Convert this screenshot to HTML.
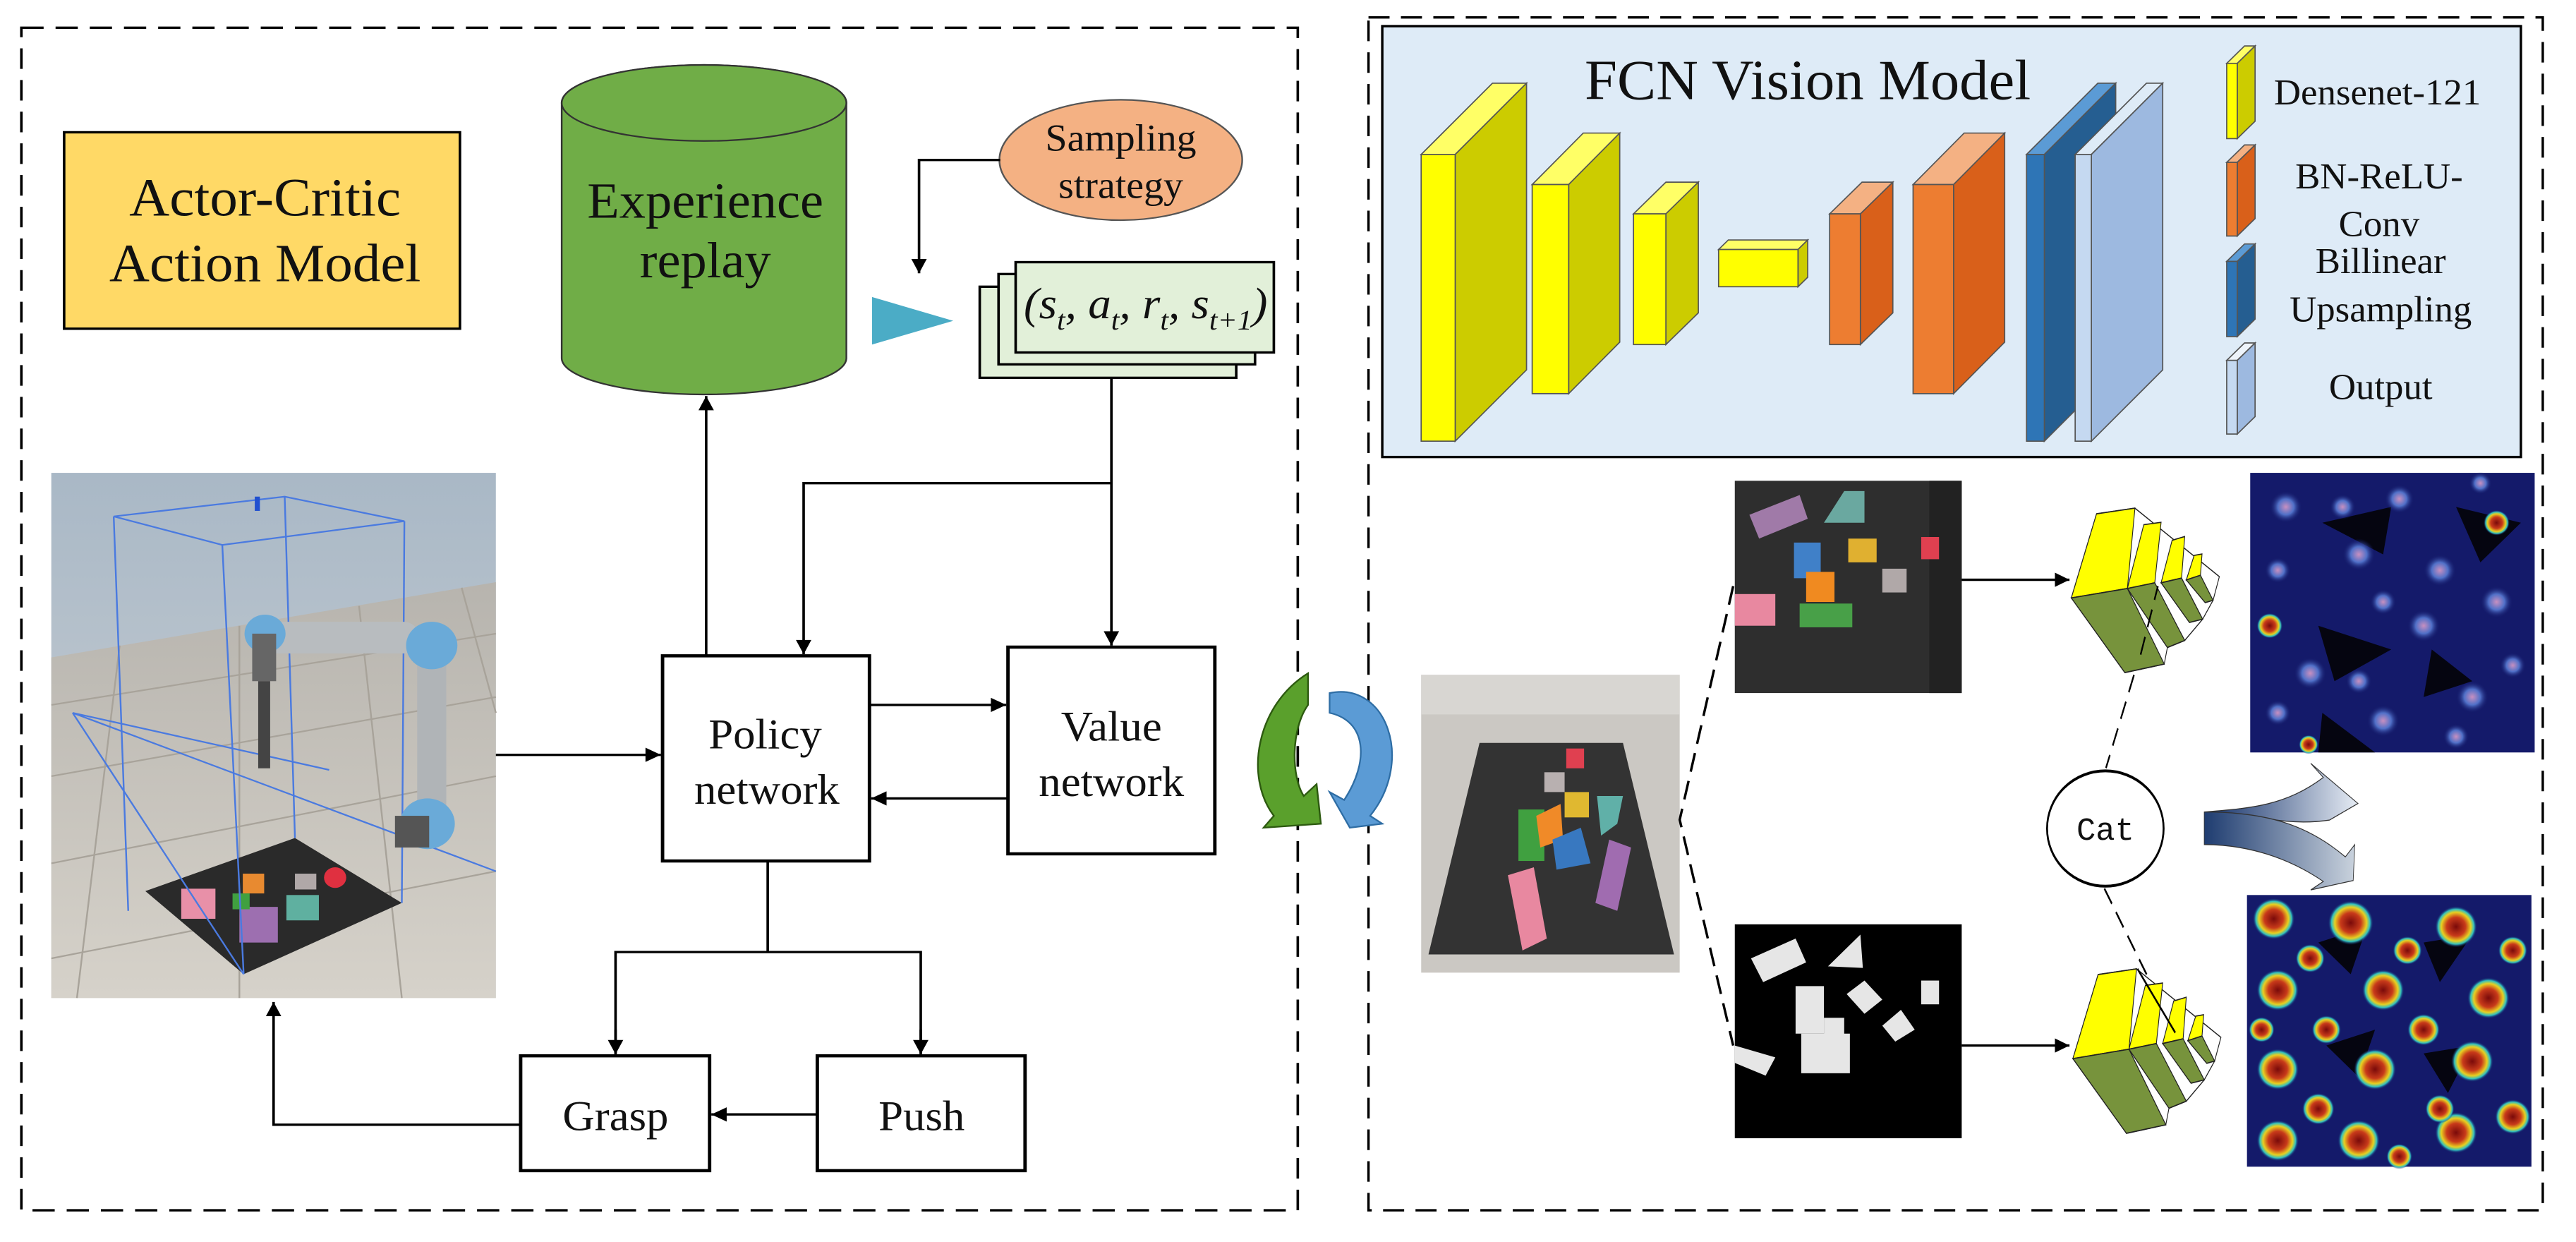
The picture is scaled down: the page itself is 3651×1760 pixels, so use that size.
<!DOCTYPE html>
<html><head><meta charset="utf-8"><style>
html,body{margin:0;padding:0;background:#fff;}
svg{display:block;}
</style></head><body>
<svg width="3651" height="1760" viewBox="0 0 3651 1760" xmlns="http://www.w3.org/2000/svg" font-family="Liberation Serif, serif">
<defs>
<marker id="ah" viewBox="0 0 10 10" refX="10" refY="5" markerWidth="24" markerHeight="18" markerUnits="userSpaceOnUse" orient="auto"><path d="M0,0 L10,5 L0,10 z" fill="#000"/></marker>
<linearGradient id="sky" x1="0" y1="0" x2="0" y2="1"><stop offset="0" stop-color="#a9b8c6"/><stop offset="1" stop-color="#cfd3d6"/></linearGradient>
<linearGradient id="fl" x1="0" y1="0" x2="0" y2="1"><stop offset="0" stop-color="#b7b4ae"/><stop offset="1" stop-color="#d6d2ca"/></linearGradient>
<linearGradient id="ga" x1="0" y1="0" x2="1" y2="0"><stop offset="0" stop-color="#0e2c66"/><stop offset="1" stop-color="#e6ecf4"/></linearGradient>
<linearGradient id="gb" x1="0" y1="0" x2="1" y2="0"><stop offset="0" stop-color="#1e3c70"/><stop offset="1" stop-color="#c9d2dd"/></linearGradient>
<radialGradient id="hot"><stop offset="0" stop-color="#7a0a0a"/><stop offset="0.45" stop-color="#c83a1a"/><stop offset="0.7" stop-color="#e8d020"/><stop offset="0.85" stop-color="#30c0c0"/><stop offset="1" stop-color="#141a6a" stop-opacity="0"/></radialGradient>
<radialGradient id="cool"><stop offset="0" stop-color="#c890c0"/><stop offset="0.5" stop-color="#5070c8"/><stop offset="1" stop-color="#141a6a" stop-opacity="0"/></radialGradient>
</defs>

<!-- LEFT PART -->
<g transform="scale(1.2117,1.1224)" font-family="Liberation Serif, serif" fill="#111">
<rect x="25" y="35" width="1493" height="1493" fill="none" stroke="#000" stroke-width="3" stroke-dasharray="26,14"/>
<rect x="75" y="167" width="463" height="248" fill="#FFD966" stroke="#000" stroke-width="3"/>
<text transform="translate(310,272) scale(0.96,1)" font-family="Liberation Serif, serif" font-size="68" text-anchor="middle">Actor-Critic</text>
<text transform="translate(310,355) scale(0.96,1)" font-family="Liberation Serif, serif" font-size="68" text-anchor="middle">Action Model</text>

<path d="M657,130 L657,452 A166.5,46 0 0 0 990,452 L990,130 A166.5,48 0 0 0 657,130 Z" fill="#70AD47" stroke="#333" stroke-width="2"/>
<ellipse cx="823.5" cy="130" rx="166.5" ry="48" fill="#70AD47" stroke="#333" stroke-width="2"/>
<text transform="translate(825,275) scale(0.96,1)" font-family="Liberation Serif, serif" font-size="64" text-anchor="middle">Experience</text>
<text transform="translate(825,350) scale(0.96,1)" font-family="Liberation Serif, serif" font-size="64" text-anchor="middle">replay</text>

<ellipse cx="1311" cy="202" rx="142" ry="76" fill="#F4B183" stroke="#555" stroke-width="2"/>
<text transform="translate(1311,190) scale(0.96,1)" font-family="Liberation Serif, serif" font-size="48" text-anchor="middle">Sampling</text>
<text transform="translate(1311,250) scale(0.96,1)" font-family="Liberation Serif, serif" font-size="48" text-anchor="middle">strategy</text>
<polyline points="1170,202 1075,202 1075,345" fill="none" stroke="#000" stroke-width="3" marker-end="url(#ah)"/>
<polygon points="1020,375 1020,435 1115,405" fill="#4BACC6"/>

<rect x="1146" y="362" width="300" height="115" fill="#E2F0D9" stroke="#000" stroke-width="3"/>
<rect x="1168" y="346" width="300" height="114" fill="#E2F0D9" stroke="#000" stroke-width="3"/>
<rect x="1188" y="331" width="302" height="114" fill="#E2F0D9" stroke="#000" stroke-width="3"/>
<text transform="translate(1340,402) scale(0.96,1)" font-family="Liberation Serif, serif" font-size="56" text-anchor="middle" font-style="italic">(s<tspan font-size="36" dy="14">t</tspan><tspan dy="-14">, a</tspan><tspan font-size="36" dy="14">t</tspan><tspan dy="-14">, r</tspan><tspan font-size="36" dy="14">t</tspan><tspan dy="-14">, s</tspan><tspan font-size="36" dy="14">t+1</tspan><tspan dy="-14">)</tspan></text>

<line x1="1300" y1="477" x2="1300" y2="815" stroke="#000" stroke-width="3" marker-end="url(#ah)"/>
<polyline points="1300,610 940,610 940,826" fill="none" stroke="#000" stroke-width="3" marker-end="url(#ah)"/>

<rect x="775" y="828" width="242" height="259" fill="#fff" stroke="#000" stroke-width="4"/>
<text transform="translate(895,945) scale(0.96,1)" font-family="Liberation Serif, serif" font-size="54" text-anchor="middle">Policy</text>
<text transform="translate(897,1015) scale(0.96,1)" font-family="Liberation Serif, serif" font-size="54" text-anchor="middle">network</text>
<rect x="1179" y="817" width="242" height="261" fill="#fff" stroke="#000" stroke-width="4"/>
<text transform="translate(1300,935) scale(0.96,1)" font-family="Liberation Serif, serif" font-size="54" text-anchor="middle">Value</text>
<text transform="translate(1300,1005) scale(0.96,1)" font-family="Liberation Serif, serif" font-size="54" text-anchor="middle">network</text>
<line x1="1017" y1="890" x2="1177" y2="890" stroke="#000" stroke-width="3" marker-end="url(#ah)"/>
<line x1="1179" y1="1008" x2="1019" y2="1008" stroke="#000" stroke-width="3" marker-end="url(#ah)"/>
<line x1="826" y1="828" x2="826" y2="500" stroke="#000" stroke-width="3" marker-end="url(#ah)"/>

<!-- robot image -->
<rect x="60" y="597" width="520" height="663" fill="url(#sky)"/>
<polygon points="60,830 580,735 580,1260 60,1260" fill="url(#fl)"/>
<g stroke="#a8a39a" stroke-width="2" fill="none">
<line x1="60" y1="890" x2="580" y2="800"/><line x1="60" y1="980" x2="580" y2="880"/><line x1="60" y1="1090" x2="580" y2="980"/><line x1="60" y1="1210" x2="580" y2="1100"/>
<line x1="140" y1="815" x2="90" y2="1260"/><line x1="280" y1="790" x2="280" y2="1260"/><line x1="420" y1="765" x2="470" y2="1260"/><line x1="540" y1="742" x2="580" y2="900"/>
</g>
<polygon points="170,1125 345,1058 470,1140 285,1230" fill="#2a2a2a"/>
<rect x="212" y="1122" width="40" height="38" fill="#e890a8"/>
<rect x="280" y="1145" width="45" height="45" fill="#9d6fb0"/>
<rect x="335" y="1130" width="38" height="32" fill="#5fb0a0"/>
<rect x="284" y="1103" width="25" height="25" fill="#e88a30"/>
<rect x="345" y="1103" width="25" height="20" fill="#b0a8a8"/>
<circle cx="392" cy="1108" r="13" fill="#e03040"/>
<rect x="272" y="1128" width="20" height="20" fill="#40a040"/>
<g stroke="#4a7ae0" stroke-width="2" fill="none">
<polyline points="133,652 333,627 473,658 260,688 133,652"/>
<line x1="133" y1="652" x2="150" y2="1150"/><line x1="260" y1="688" x2="285" y2="1230"/><line x1="473" y1="658" x2="470" y2="1140"/><line x1="333" y1="627" x2="345" y2="1058"/>
<line x1="85" y1="900" x2="385" y2="972"/><line x1="85" y1="900" x2="580" y2="1100"/><line x1="85" y1="900" x2="285" y2="1230"/>
</g>
<rect x="298" y="627" width="6" height="18" fill="#2050d0"/>
<g>
<rect x="300" y="785" width="190" height="40" rx="18" fill="#b8bcbf"/>
<rect x="488" y="810" width="34" height="220" fill="#b0b4b7"/>
<circle cx="505" cy="815" r="30" fill="#6aaad8"/>
<circle cx="310" cy="800" r="24" fill="#6aaad8"/>
<rect x="295" y="800" width="28" height="60" fill="#666"/>
<rect x="302" y="860" width="14" height="110" fill="#444"/>
<circle cx="500" cy="1040" r="32" fill="#6aaad8"/>
<rect x="462" y="1030" width="40" height="40" fill="#555"/>
</g>
<line x1="580" y1="953" x2="773" y2="953" stroke="#000" stroke-width="3" marker-end="url(#ah)"/>

<line x1="898" y1="1087" x2="898" y2="1202" stroke="#000" stroke-width="3"/>
<polyline points="720,1330 720,1202 1077,1202 1077,1330" fill="none" stroke="#000" stroke-width="3"/>
<line x1="720" y1="1300" x2="720" y2="1331" stroke="#000" stroke-width="3" marker-end="url(#ah)"/>
<line x1="1077" y1="1300" x2="1077" y2="1331" stroke="#000" stroke-width="3" marker-end="url(#ah)"/>
<rect x="609" y="1333" width="221" height="145" fill="#fff" stroke="#000" stroke-width="4"/>
<text transform="translate(720,1427) scale(0.96,1)" font-family="Liberation Serif, serif" font-size="54" text-anchor="middle">Grasp</text>
<rect x="956" y="1333" width="243" height="145" fill="#fff" stroke="#000" stroke-width="4"/>
<text transform="translate(1078,1427) scale(0.96,1)" font-family="Liberation Serif, serif" font-size="54" text-anchor="middle">Push</text>
<line x1="956" y1="1407" x2="832" y2="1407" stroke="#000" stroke-width="3" marker-end="url(#ah)"/>
<polyline points="609,1420 320,1420 320,1265" fill="none" stroke="#000" stroke-width="3" marker-end="url(#ah)"/>

<path d="M1530,850 C1470,890 1455,980 1490,1030 L1478,1045 L1545,1040 L1540,990 L1525,1005 C1510,980 1510,920 1530,890 Z" fill="#5aa02c" stroke="#2d5a10" stroke-width="2"/>
</g>

<!-- RIGHT PART -->
<g transform="translate(1850,0) scale(1.1486,1.1224)" font-family="Liberation Serif, serif" fill="#111">
<rect x="78" y="22" width="1449" height="1506" fill="none" stroke="#000" stroke-width="3" stroke-dasharray="26,14"/>
<path d="M30,875 C100,860 135,960 80,1030 L95,1040 L55,1045 L30,1000 L48,1010 C80,960 75,910 30,900 Z" fill="#5b9bd5" stroke="#2e6da4" stroke-width="2"/>

<rect x="95" y="33" width="1405" height="544" fill="#DEEBF7" stroke="#000" stroke-width="3"/>
<text x="620" y="125" font-family="Liberation Serif, serif" font-size="72" text-anchor="middle">FCN Vision Model</text>

<g stroke="#555" stroke-width="1.5">
<polygon points="143,195 231,105 273,105 185,195" fill="#FFFF66"/><polygon points="185,195 273,105 273,467 185,557" fill="#CCCC00"/><rect x="143" y="195" width="42" height="362" fill="#FFFF00"/>
<polygon points="280,233 343,168 388,168 325,233" fill="#FFFF66"/><polygon points="325,233 388,168 388,432 325,497" fill="#CCCC00"/><rect x="280" y="233" width="45" height="264" fill="#FFFF00"/>
<polygon points="405,270 445,230 485,230 445,270" fill="#FFFF66"/><polygon points="445,270 485,230 485,395 445,435" fill="#CCCC00"/><rect x="405" y="270" width="40" height="165" fill="#FFFF00"/>
<polygon points="510,315 522,303 620,303 608,315" fill="#FFFF66"/><polygon points="608,315 620,303 620,350 608,362" fill="#CCCC00"/><rect x="510" y="315" width="98" height="47" fill="#FFFF00"/>
<polygon points="647,270 687,230 725,230 685,270" fill="#F4B183"/><polygon points="685,270 725,230 725,395 685,435" fill="#D9601A"/><rect x="647" y="270" width="38" height="165" fill="#ED7D31"/>
<polygon points="750,233 813,168 863,168 800,233" fill="#F4B183"/><polygon points="800,233 863,168 863,432 800,497" fill="#D9601A"/><rect x="750" y="233" width="50" height="264" fill="#ED7D31"/>
<polygon points="890,195 978,105 1000,105 912,195" fill="#5B9BD5"/><polygon points="912,195 1000,105 1000,467 912,557" fill="#255E91"/><rect x="890" y="195" width="22" height="362" fill="#2E75B6"/>
<polygon points="950,195 1038,105 1058,105 970,195" fill="#DEEBF7"/><polygon points="970,195 1058,105 1058,467 970,557" fill="#9DB9E0"/><rect x="950" y="195" width="20" height="362" fill="#C5D9F1"/>
<polygon points="1137,80 1159,58 1172,58 1150,80" fill="#FFFF66"/><polygon points="1150,80 1172,58 1172,153 1150,175" fill="#CCCC00"/><rect x="1137" y="80" width="13" height="95" fill="#FFFF00"/>
<polygon points="1137,205 1159,183 1172,183 1150,205" fill="#F4B183"/><polygon points="1150,205 1172,183 1172,276 1150,298" fill="#D9601A"/><rect x="1137" y="205" width="13" height="93" fill="#ED7D31"/>
<polygon points="1137,330 1159,308 1172,308 1150,330" fill="#5B9BD5"/><polygon points="1150,330 1172,308 1172,403 1150,425" fill="#255E91"/><rect x="1137" y="330" width="13" height="95" fill="#2E75B6"/>
<polygon points="1137,455 1159,433 1172,433 1150,455" fill="#EEF4FB"/><polygon points="1150,455 1172,433 1172,526 1150,548" fill="#9DB9E0"/><rect x="1137" y="455" width="13" height="93" fill="#C5D9F1"/>
</g>
<g font-family="Liberation Serif, serif" font-size="46" text-anchor="middle">
<text x="1323" y="132">Densenet-121</text>
<text x="1325" y="238">BN-ReLU-</text>
<text x="1325" y="298">Conv</text>
<text x="1327" y="345">Billinear</text>
<text x="1327" y="406">Upsampling</text>
<text x="1327" y="504">Output</text>
</g>

<rect x="143" y="852" width="319" height="376" fill="#cbc8c3"/>
<rect x="143" y="852" width="319" height="50" fill="#d8d6d2"/>
<polygon points="215,938 392,938 455,1205 152,1205" fill="#333"/>
<rect x="322" y="945" width="22" height="25" fill="#e04050"/>
<rect x="295" y="975" width="25" height="25" fill="#b8b0b0"/>
<rect x="320" y="1000" width="30" height="32" fill="#e0b830"/>
<rect x="263" y="1022" width="32" height="65" fill="#40a040"/>
<polygon points="285,1030 315,1015 318,1060 290,1070" fill="#f08a28"/>
<polygon points="305,1060 340,1045 352,1090 310,1098" fill="#3878c0"/>
<polygon points="360,1005 392,1005 385,1040 365,1055" fill="#60b0a8"/>
<polygon points="375,1060 402,1070 385,1150 358,1140" fill="#a06cb0"/>
<polygon points="250,1105 282,1095 298,1185 268,1200" fill="#e888a0"/>

<rect x="530" y="607" width="280" height="268" fill="#2e2e2e"/>
<rect x="770" y="607" width="40" height="268" fill="#222"/>
<polygon points="548,650 610,625 620,655 560,680" fill="#a07aa8"/>
<polygon points="640,660 665,620 690,620 690,660" fill="#6aa8a0"/>
<rect x="603" y="685" width="33" height="45" fill="#4080c8"/>
<rect x="670" y="680" width="35" height="30" fill="#e0b030"/>
<rect x="618" y="722" width="35" height="38" fill="#f08a20"/>
<rect x="712" y="718" width="30" height="30" fill="#b0a8a8"/>
<rect x="610" y="762" width="65" height="30" fill="#48a048"/>
<rect x="530" y="750" width="50" height="40" fill="#e888a0"/>
<rect x="760" y="678" width="22" height="28" fill="#e04050"/>
<rect x="530" y="1167" width="280" height="270" fill="#000"/>
<g fill="#e6e6e6">
<polygon points="550,1210 605,1185 618,1215 565,1240"/>
<polygon points="645,1220 685,1180 688,1222"/>
<rect x="605" y="1245" width="35" height="60"/>
<polygon points="668,1255 690,1238 712,1262 690,1280"/>
<polygon points="712,1295 735,1275 752,1300 728,1315"/>
<rect x="612" y="1305" width="60" height="50"/>
<polygon points="530,1320 580,1335 568,1358 530,1342"/>
<rect x="760" y="1238" width="22" height="30"/>
<rect x="640" y="1285" width="25" height="30"/>
</g>

<polyline points="528,740 462,1035 528,1320" stroke="#000" stroke-width="3" fill="none" stroke-dasharray="24,12"/>
<line x1="810" y1="732" x2="943" y2="732" stroke="#000" stroke-width="3" marker-end="url(#ah)"/>
<line x1="810" y1="1320" x2="943" y2="1320" stroke="#000" stroke-width="3" marker-end="url(#ah)"/>

<rect x="1166" y="597" width="351" height="353" fill="#141a6a"/>
<g fill="#050510"><polygon points="1255,660 1340,640 1330,700"/><polygon points="1420,640 1500,660 1450,710"/><polygon points="1250,790 1340,820 1270,860"/><polygon points="1390,820 1440,860 1380,880"/><polygon points="1255,900 1320,950 1250,950"/></g>
<g>
<circle cx="1190" cy="790" r="16" fill="url(#hot)"/><circle cx="1470" cy="660" r="16" fill="url(#hot)"/><circle cx="1238" cy="940" r="12" fill="url(#hot)"/>
<circle cx="1210" cy="640" r="20" fill="url(#cool)"/><circle cx="1300" cy="700" r="20" fill="url(#cool)"/><circle cx="1400" cy="720" r="20" fill="url(#cool)"/><circle cx="1470" cy="760" r="20" fill="url(#cool)"/><circle cx="1240" cy="850" r="20" fill="url(#cool)"/><circle cx="1380" cy="790" r="20" fill="url(#cool)"/><circle cx="1440" cy="880" r="20" fill="url(#cool)"/><circle cx="1330" cy="910" r="20" fill="url(#cool)"/><circle cx="1350" cy="630" r="18" fill="url(#cool)"/>
<circle cx="1200" cy="720" r="16" fill="url(#cool)"/><circle cx="1280" cy="640" r="16" fill="url(#cool)"/><circle cx="1330" cy="760" r="16" fill="url(#cool)"/><circle cx="1490" cy="840" r="16" fill="url(#cool)"/><circle cx="1420" cy="930" r="16" fill="url(#cool)"/><circle cx="1300" cy="860" r="16" fill="url(#cool)"/><circle cx="1200" cy="900" r="16" fill="url(#cool)"/><circle cx="1450" cy="610" r="14" fill="url(#cool)"/>
</g>
<rect x="1162" y="1130" width="351" height="343" fill="#141a6a"/>
<g fill="#050510"><polygon points="1250,1190 1310,1170 1290,1230"/><polygon points="1380,1190 1440,1180 1400,1240"/><polygon points="1260,1320 1320,1300 1300,1360"/><polygon points="1380,1330 1440,1320 1410,1380"/></g>
<g>
<circle cx="1195" cy="1160" r="26" fill="url(#hot)"/><circle cx="1290" cy="1165" r="28" fill="url(#hot)"/><circle cx="1420" cy="1170" r="26" fill="url(#hot)"/><circle cx="1200" cy="1250" r="26" fill="url(#hot)"/><circle cx="1330" cy="1250" r="26" fill="url(#hot)"/><circle cx="1460" cy="1260" r="26" fill="url(#hot)"/><circle cx="1200" cy="1350" r="26" fill="url(#hot)"/><circle cx="1320" cy="1350" r="26" fill="url(#hot)"/><circle cx="1440" cy="1340" r="26" fill="url(#hot)"/><circle cx="1200" cy="1440" r="26" fill="url(#hot)"/><circle cx="1300" cy="1440" r="26" fill="url(#hot)"/><circle cx="1420" cy="1430" r="26" fill="url(#hot)"/><circle cx="1490" cy="1410" r="22" fill="url(#hot)"/><circle cx="1250" cy="1400" r="20" fill="url(#hot)"/><circle cx="1380" cy="1300" r="20" fill="url(#hot)"/>
<circle cx="1240" cy="1210" r="18" fill="url(#hot)"/><circle cx="1360" cy="1200" r="18" fill="url(#hot)"/><circle cx="1490" cy="1200" r="18" fill="url(#hot)"/><circle cx="1260" cy="1300" r="18" fill="url(#hot)"/><circle cx="1400" cy="1400" r="18" fill="url(#hot)"/><circle cx="1350" cy="1460" r="16" fill="url(#hot)"/><circle cx="1180" cy="1300" r="16" fill="url(#hot)"/>
</g>
</g>

<!-- Cat, step blocks, split arrow -->
<g transform="translate(2900,700) scale(0.4464,0.6696)">
<g stroke="#000" stroke-width="5" fill="none" stroke-dasharray="40,22">
<line x1="330" y1="270" x2="190" y2="580"/>
<line x1="185" y1="835" x2="410" y2="1140"/>
</g>
<g id="stk" stroke="#222" stroke-width="2.5">
<polygon points="160,42 282,30 550,175 530,225 497,265 440,310 385,325 375,360 250,378 80,220" fill="#fff"/>
<polygon points="80,220 160,42 282,30 258,200" fill="#FFFF00"/>
<polygon points="80,220 258,200 375,360 250,378" fill="#77933C"/>
<polygon points="258,200 310,65 365,60 345,188" fill="#FFFF00"/>
<polygon points="258,200 345,188 440,310 385,325" fill="#77933C"/>
<polygon points="365,188 400,98 440,90 430,178" fill="#FFFF00"/>
<polygon points="365,188 430,178 497,265 455,272" fill="#77933C"/>
<polygon points="445,182 470,130 495,127 490,172" fill="#FFFF00"/>
<polygon points="445,182 490,172 530,225 505,230" fill="#77933C"/>
</g>
<use href="#stk" transform="translate(5,975)"/>
<line x1="300" y1="340" x2="355" y2="195" stroke="#000" stroke-width="5" stroke-dasharray="40,22"/>
<line x1="290" y1="1005" x2="410" y2="1140" stroke="#000" stroke-width="5"/>
<ellipse cx="188" cy="708" rx="185" ry="122" fill="#fff" stroke="#000" stroke-width="6"/>
<text transform="translate(188,732) scale(1.5,1)" font-size="68" text-anchor="middle" font-family="Liberation Mono, monospace" fill="#111">Cat</text>
<path d="M502,673 C650,665 760,660 880,600 L840,570 L990,655 L900,690 C800,700 720,690 640,680 Z" fill="url(#ga)" stroke="#333" stroke-width="2"/>
<path d="M502,673 L502,742 C640,742 770,770 880,820 L840,838 L975,818 L980,742 L950,768 C830,700 700,673 502,673 Z" fill="url(#gb)" stroke="#333" stroke-width="2"/>
</g>
</svg>
</body></html>
